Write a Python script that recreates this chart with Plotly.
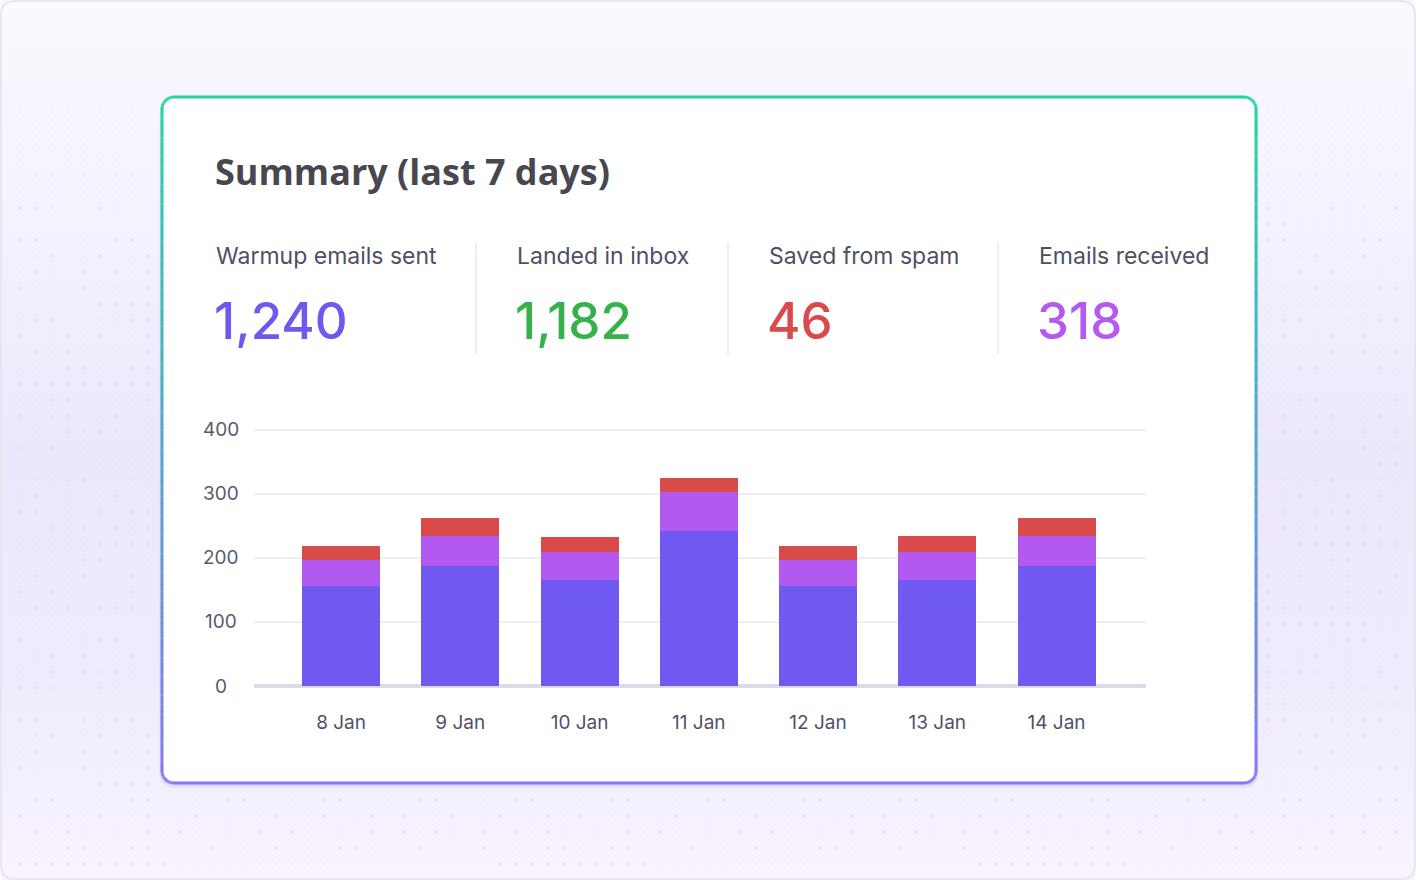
import math
import plotly.graph_objects as go

W, H = 1416, 880

# ---------------- data ----------------
days = ["8 Jan", "9 Jan", "10 Jan", "11 Jan", "12 Jan", "13 Jan", "14 Jan"]
sent_part = [156, 188, 166, 242, 156, 166, 188]
received_part = [41, 46, 43, 61, 41, 43, 46]
spam_part = [22, 29, 24, 22, 22, 25, 29]
y_ticks = [0, 100, 200, 300, 400]

kpi_labels = ["Warmup emails sent", "Landed in inbox", "Saved from spam", "Emails received"]
kpi_values = ["1,240", "1,182", "46", "318"]
kpi_colors = ["#6E59F0", "#37B24A", "#D94B4B", "#B45AF0"]
title_text = "Summary (last 7 days)"

C_SENT, C_RECV, C_SPAM = "#6F59F0", "#B25AF0", "#D94B4B"


def px(x):
    return x / W


def py(y):
    return 1 - y / H


def hexrgb(h):
    h = h.lstrip("#")
    return tuple(int(h[i:i + 2], 16) for i in (0, 2, 4))


def lerp_col(c1, c2, t):
    a, b = hexrgb(c1), hexrgb(c2)
    return "rgb(%d,%d,%d)" % tuple(round(a[i] + (b[i] - a[i]) * t) for i in range(3))


def rrect_path(x0, y0, x1, y1, r):
    pts = [
        f"M {px(x0 + r)} {py(y0)}",
        f"L {px(x1 - r)} {py(y0)}",
        f"Q {px(x1)} {py(y0)} {px(x1)} {py(y0 + r)}",
        f"L {px(x1)} {py(y1 - r)}",
        f"Q {px(x1)} {py(y1)} {px(x1 - r)} {py(y1)}",
        f"L {px(x0 + r)} {py(y1)}",
        f"Q {px(x0)} {py(y1)} {px(x0)} {py(y1 - r)}",
        f"L {px(x0)} {py(y0 + r)}",
        f"Q {px(x0)} {py(y0)} {px(x0 + r)} {py(y0)}",
        "Z",
    ]
    return " ".join(pts)


shapes = []

# background gradient bands
stops = [(0, "#FAF9FE"), (220, "#F4F2FD"), (450, "#ECE8FB"), (650, "#EFEAFC"), (880, "#F8F3FD")]


def bg_col(y):
    for (ya, ca), (yb, cb) in zip(stops[:-1], stops[1:]):
        if ya <= y <= yb:
            return lerp_col(ca, cb, (y - ya) / (yb - ya))
    return stops[-1][1]


step = 8
for y in range(0, H, step):
    shapes.append(dict(type="rect", xref="paper", yref="paper", layer="below",
                       x0=px(1), x1=px(W - 1), y0=py(y + step + 0.5), y1=py(y),
                       fillcolor=bg_col(y + step / 2), line=dict(width=0)))

# outer frame
shapes.append(dict(type="path", xref="paper", yref="paper", layer="below",
                   path=rrect_path(1, 1, W - 1, H - 1, 14),
                   line=dict(color="#E3E0EC", width=1.5), fillcolor="rgba(0,0,0,0)"))

# card geometry
CX0, CY0, CX1, CY1, CR = 162, 97, 1256, 783, 12

# shadow
for off, alpha in [(6, 0.05), (4, 0.07), (2, 0.08)]:
    shapes.append(dict(type="path", xref="paper", yref="paper", layer="below",
                       path=rrect_path(CX0 - off / 2, CY0 + off / 2, CX1 + off / 2, CY1 + off, CR + off),
                       fillcolor=f"rgba(110,90,220,{alpha})", line=dict(width=0)))

# card fill
shapes.append(dict(type="path", xref="paper", yref="paper", layer="below",
                   path=rrect_path(CX0, CY0, CX1, CY1, CR),
                   fillcolor="#FFFFFF", line=dict(width=0)))

# gradient border (segments)
G_TOP, G_BOT = "#1ED6A0", "#8578F2"
pts = []
n_arc = 10


def arc(cx, cy, a0, a1):
    out = []
    for k in range(n_arc + 1):
        a = a0 + (a1 - a0) * k / n_arc
        out.append((cx + CR * math.cos(a), cy + CR * math.sin(a)))
    return out


pts += arc(CX0 + CR, CY0 + CR, math.pi, 1.5 * math.pi)
pts += [(CX0 + CR + (CX1 - CX0 - 2 * CR) * k / 10, CY0) for k in range(1, 10)]
pts += arc(CX1 - CR, CY0 + CR, 1.5 * math.pi, 2 * math.pi)
nside = 70
pts += [(CX1, CY0 + CR + (CY1 - CY0 - 2 * CR) * k / nside) for k in range(1, nside)]
pts += arc(CX1 - CR, CY1 - CR, 0, 0.5 * math.pi)
pts += [(CX1 - CR - (CX1 - CX0 - 2 * CR) * k / 10, CY1) for k in range(1, 10)]
pts += arc(CX0 + CR, CY1 - CR, 0.5 * math.pi, math.pi)
pts += [(CX0, CY1 - CR - (CY1 - CY0 - 2 * CR) * k / nside) for k in range(1, nside)]
pts.append(pts[0])
for (xa, ya), (xb, yb) in zip(pts[:-1], pts[1:]):
    t = ((ya + yb) / 2 - CY0) / (CY1 - CY0)
    shapes.append(dict(type="line", xref="paper", yref="paper", layer="below",
                       x0=px(xa), y0=py(ya), x1=px(xb), y1=py(yb),
                       line=dict(color=lerp_col(G_TOP, G_BOT, t), width=3)))

# KPI dividers
for xd in [476, 728, 998]:
    shapes.append(dict(type="line", xref="paper", yref="paper", layer="below",
                       x0=px(xd), x1=px(xd), y0=py(242), y1=py(354),
                       line=dict(color="#E9E7F6", width=1.5)))

# ---------------- decorative dots ----------------
dx, dy, dop = [], [], []
for j in range(0, H // 16 + 1):
    yv = j * 16
    if yv < 112 or yv > H - 6:
        continue
    for i in range(0, W // 16 + 1):
        xv = 4 + i * 16
        if xv < 6 or xv > W - 6:
            continue
        if CX0 - 8 <= xv <= CX1 + 8 and CY0 - 8 <= yv <= CY1 + 10:
            continue
        h = (i * 7 + j * 13 + (i * j) % 5) % 6
        if h < 2:
            continue
        dx.append(xv)
        dy.append(yv)
        dop.append(h if yv > 200 else 2)
dot_colors = [f"rgba(170,160,215,{0.08 + 0.05 * (v - 2)})" for v in dop]

fig = go.Figure()

fig.add_trace(go.Scatter(x=dx, y=dy, mode="markers", xaxis="x2", yaxis="y2",
                         marker=dict(symbol="square", size=3, color=dot_colors, line=dict(width=0)),
                         hoverinfo="skip", showlegend=False))

# ---------------- bars ----------------
fig.add_trace(go.Bar(x=days, y=sent_part, name="Warmup emails sent", marker=dict(color=C_SENT, line=dict(width=0))))
fig.add_trace(go.Bar(x=days, y=received_part, name="Emails received", marker=dict(color=C_RECV, line=dict(width=0))))
fig.add_trace(go.Bar(x=days, y=spam_part, name="Saved from spam", marker=dict(color=C_SPAM, line=dict(width=0))))

annotations = []
annotations.append(dict(xref="paper", yref="paper", x=px(213), y=py(172), xanchor="left", yanchor="middle",
                        text=f"<b>{title_text}</b>", showarrow=False,
                        font=dict(family="Open Sans", size=36, color="#48474F")))
kpi_x = [214, 515, 767, 1037]
for xk, lab, val, col in zip(kpi_x, kpi_labels, kpi_values, kpi_colors):
    annotations.append(dict(xref="paper", yref="paper", x=px(xk), y=py(256), xanchor="left", yanchor="middle",
                            text=lab, showarrow=False,
                            font=dict(family="Inter", size=23, color="#4E4F63")))
    annotations.append(dict(xref="paper", yref="paper", x=px(xk - 2), y=py(320), xanchor="left", yanchor="middle",
                            text=val, showarrow=False,
                            font=dict(family="Inter", size=51, color=col, weight=500)))

# y tick labels, centred (as in the reference) and placed through the y scale
for v in y_ticks:
    annotations.append(dict(xref="paper", yref="y", x=px(221), y=v, xanchor="center", yanchor="middle",
                            text=str(v), showarrow=False,
                            font=dict(family="Inter", size=19, color="#5A5A6E")))

fig.update_layout(
    width=W, height=H,
    margin=dict(l=0, r=0, t=0, b=0, pad=0, autoexpand=False),
    paper_bgcolor="#FFFFFF",
    plot_bgcolor="rgba(0,0,0,0)",
    barmode="stack",
    bargap=0.346,
    showlegend=False,
    shapes=shapes,
    annotations=annotations,
    xaxis=dict(domain=[px(254), px(1146)], type="category", range=[-0.73, 6.75],
               showgrid=False, showline=False, zeroline=False, ticks="", automargin=False,
               tickfont=dict(family="Inter", size=19, color="#505068"),
               ticklabelstandoff=23, fixedrange=True),
    yaxis=dict(domain=[py(686), py(428)], range=[0, 403], tickvals=y_ticks,
               showgrid=True, gridcolor="#EFEEF5", gridwidth=1.5,
               zeroline=True, zerolinecolor="#DCDAE6", zerolinewidth=4,
               showline=False, ticks="", automargin=False, showticklabels=False,
               fixedrange=True),
    xaxis2=dict(domain=[0, 1], range=[0, W], visible=False, fixedrange=True, automargin=False),
    yaxis2=dict(domain=[0, 1], range=[H, 0], visible=False, fixedrange=True, automargin=False),
)

post = (
    "document.documentElement.style.margin='0';"
    "document.body.style.margin='0';document.body.style.padding='0';"
    "document.body.style.overflow='hidden';"
    "var d=document.getElementById('{plot_id}');"
    "d.style.position='absolute';d.style.left='0px';d.style.top='0px';"
)

fig.write_html("out.html", post_script=post, config={"displayModeBar": False})
